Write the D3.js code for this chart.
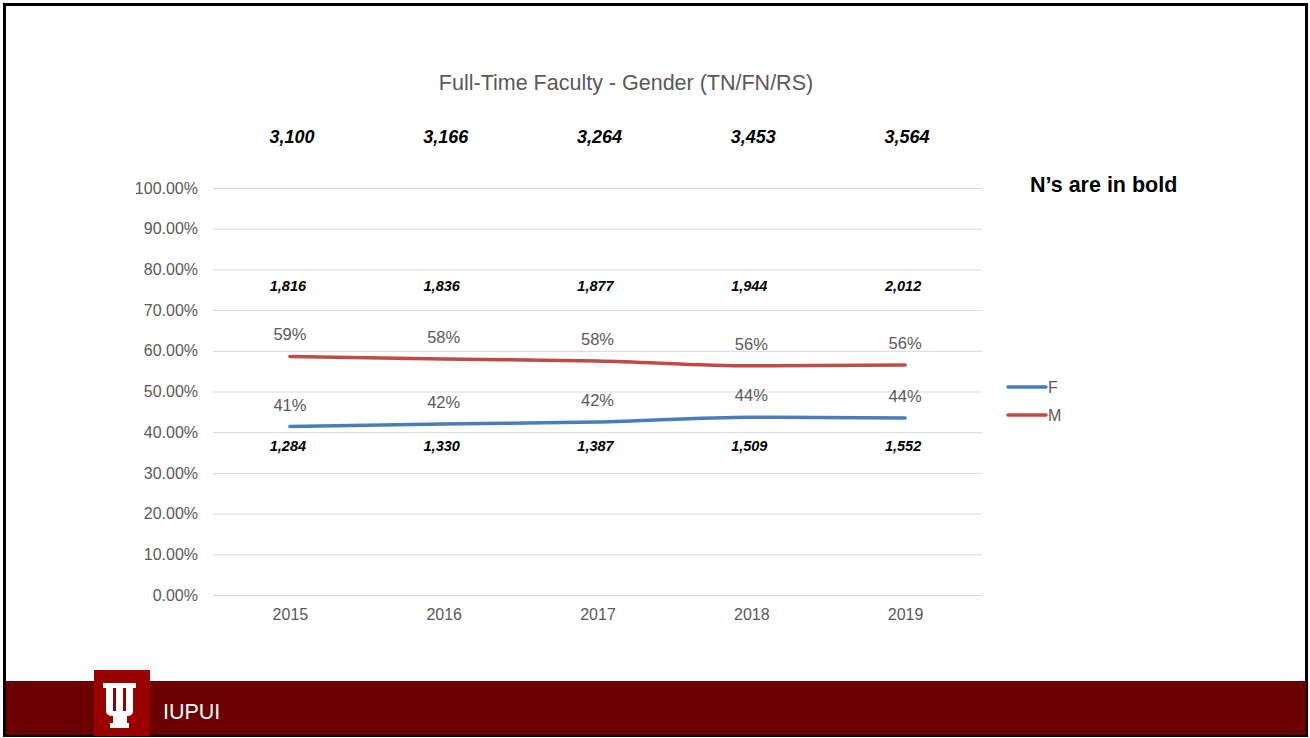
<!DOCTYPE html>
<html>
<head>
<meta charset="utf-8">
<script src="https://cdn.jsdelivr.net/npm/d3@7"></script>
<style>
  body { margin: 0; background: #fff; }
  svg { display: block; font-family: "Liberation Sans", Arial, sans-serif; }
</style>
</head>
<body>
<svg id="chart" width="1310" height="738"></svg>
<script>
const years = ["2015", "2016", "2017", "2018", "2019"];
const femalePct = [41.4, 42.0, 42.5, 43.7, 43.5];
const malePct = [58.6, 58.0, 57.5, 56.3, 56.5];
const femaleLabels = ["41%", "42%", "42%", "44%", "44%"];
const maleLabels = ["59%", "58%", "58%", "56%", "56%"];
const totalN = ["3,100", "3,166", "3,264", "3,453", "3,564"];
const maleN = ["1,816", "1,836", "1,877", "1,944", "2,012"];
const femaleN = ["1,284", "1,330", "1,387", "1,509", "1,552"];
const yTicks = [0, 10, 20, 30, 40, 50, 60, 70, 80, 90, 100];

const svg = d3.select("#chart");
const grey = "#595959";

// slide frame
svg.append("rect")
  .attr("x", 4.5).attr("y", 4.5)
  .attr("width", 1302).attr("height", 731)
  .attr("fill", "#fff")
  .attr("stroke", "#000")
  .attr("stroke-width", 3);

const x = d3.scalePoint()
  .domain(years)
  .range([213, 982])
  .padding(0.5);

const y = d3.scaleLinear()
  .domain([0, 100])
  .range([595, 188]);

// title
svg.append("text")
  .attr("x", 626).attr("y", 90)
  .attr("text-anchor", "middle")
  .attr("font-size", 21.5)
  .attr("fill", grey)
  .text("Full-Time Faculty - Gender (TN/FN/RS)");

// gridlines + y axis
const yAxis = svg.append("g")
  .attr("transform", "translate(213,0)")
  .call(d3.axisLeft(y).tickValues(yTicks).tickSize(-769).tickFormat(d => d.toFixed(2) + "%"));
yAxis.select(".domain").remove();
yAxis.selectAll(".tick line").attr("stroke", "#d9d9d9").attr("stroke-width", 1);
yAxis.selectAll(".tick text")
  .attr("x", -15)
  .attr("font-size", 16)
  .attr("fill", grey)
  .attr("font-family", "Liberation Sans, Arial, sans-serif");

// x axis labels
const xAxis = svg.append("g")
  .attr("transform", "translate(0,595)")
  .call(d3.axisBottom(x).tickSize(0));
xAxis.select(".domain").remove();
xAxis.selectAll(".tick text")
  .attr("dy", "1.35em")
  .attr("font-size", 16)
  .attr("fill", grey)
  .attr("font-family", "Liberation Sans, Arial, sans-serif");

const line = d3.line()
  .x((d, i) => x(years[i]))
  .y(d => y(d))
  .curve(d3.curveMonotoneX);

const series = [
  { name: "F", values: femalePct, labels: femaleLabels, color: "#4a7ebb" },
  { name: "M", values: malePct, labels: maleLabels, color: "#be4b48" }
];

series.forEach(s => {
  svg.append("path")
    .attr("d", line(s.values))
    .attr("fill", "none")
    .attr("stroke", s.color)
    .attr("stroke-width", 3.5)
    .attr("stroke-linecap", "round");

  svg.append("g").selectAll("text")
    .data(s.values)
    .join("text")
    .attr("x", (d, i) => x(years[i]))
    .attr("y", d => y(d) - 16)
    .attr("text-anchor", "middle")
    .attr("font-size", 16.5)
    .attr("fill", grey)
    .text((d, i) => s.labels[i]);
});

// N labels
function nRow(arr, yVal, size, dx) {
  svg.append("g").selectAll("text")
    .data(arr)
    .join("text")
    .attr("x", (d, i) => x(years[i]) + dx)
    .attr("y", y(yVal))
    .attr("text-anchor", "middle")
    .attr("font-size", size)
    .attr("font-weight", "bold")
    .attr("font-style", "italic")
    .attr("fill", "#000")
    .text(d => d);
}
nRow(totalN, 111, 18, 2);
nRow(maleN, 74.6, 14.5, -2);
nRow(femaleN, 35.3, 14.5, -2);

svg.append("text")
  .attr("x", 1030).attr("y", 192)
  .attr("font-size", 21.5)
  .attr("font-weight", "bold")
  .attr("fill", "#000")
  .text("N\u2019s are in bold");

// legend
const legend = svg.append("g").attr("transform", "translate(1008,387)");
series.forEach((s, i) => {
  const g = legend.append("g").attr("transform", `translate(0,${i * 28})`);
  g.append("line")
    .attr("x1", 0).attr("x2", 38)
    .attr("stroke", s.color)
    .attr("stroke-width", 3.5)
    .attr("stroke-linecap", "round");
  g.append("text")
    .attr("x", 40).attr("y", 6)
    .attr("font-size", 16)
    .attr("fill", grey)
    .text(s.name);
});

// footer band
svg.append("rect")
  .attr("x", 6).attr("y", 681)
  .attr("width", 1300).attr("height", 54)
  .attr("fill", "#6a0000");
svg.append("rect")
  .attr("x", 94).attr("y", 670)
  .attr("width", 56).attr("height", 66)
  .attr("fill", "#990000");
// trident mark
svg.append("path")
  .attr("fill", "#fff")
  .attr("d", "M103,683 H115 V688 H113 V711 H116 V688 H114 V683 H125 V688 H123 V711 H126 V688 H124 V683 H136 V688 H133 V711 Q133,716 127,716 V723 H129 V728 H110 V723 H113 V716 Q106,716 106,711 V688 H103 Z");
svg.append("text")
  .attr("x", 163).attr("y", 719)
  .attr("font-size", 21.5)
  .attr("fill", "#fff")
  .text("IUPUI");
</script>
</body>
</html>
